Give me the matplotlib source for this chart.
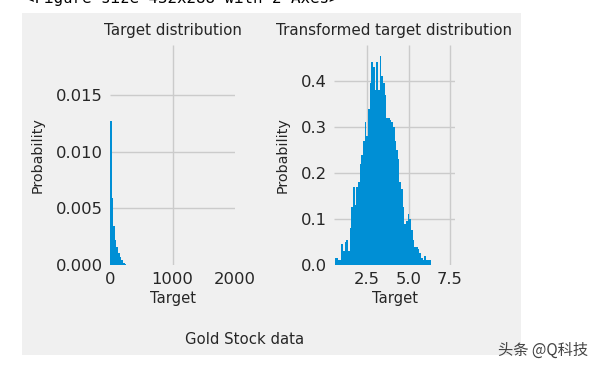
import matplotlib
matplotlib.use("Agg")
import matplotlib.pyplot as plt
import numpy as np
from matplotlib.patches import Rectangle

plt.style.use('fivethirtyeight')

# left histogram: raw target (density), bin width ~26
raw_start = 0
raw_width = 26
raw_heights = [0.0127, 0.0059, 0.0034, 0.0022, 0.0016, 0.0011, 0.0007, 0.0004, 0.0002, 0.0001]

# right histogram: log-transformed target (density), bin width 0.1
log_start = 0.55
log_width = 0.1
log_heights = [0.015, 0.015, 0.01, 0.01, 0.045, 0.03, 0.05, 0.055, 0.03, 0.08,
               0.125, 0.17, 0.13, 0.17, 0.18, 0.22, 0.24, 0.27, 0.31, 0.28,
               0.34, 0.395, 0.44, 0.43, 0.38, 0.44, 0.38, 0.455, 0.41, 0.395,
               0.37, 0.32, 0.32, 0.315, 0.31, 0.30, 0.27, 0.25, 0.23, 0.18,
               0.165, 0.125, 0.09, 0.095, 0.11, 0.10, 0.075, 0.055, 0.04, 0.04,
               0.035, 0.025, 0.015, 0.01, 0.02, 0.01, 0.01, 0.01]

raw_xticks = [0, 1000, 2000]
raw_yticks = [0.000, 0.005, 0.010, 0.015]
log_xticks = [2.5, 5.0, 7.5]
log_yticks = [0.0, 0.1, 0.2, 0.3, 0.4]

txt = '#262626'
W, H = 599, 366
fig = plt.figure(figsize=(W / 100, H / 100), dpi=100)
fig.patch.set_facecolor('white')

# grey figure area of the notebook output
fig.patches.append(Rectangle((22 / W, 1 - 355 / H), 499 / W, 342 / H,
                             transform=fig.transFigure, facecolor='#f0f0f0',
                             edgecolor='none', zorder=-5))

fig.text(25 / W, 1 - 3 / H, '<Figure size 432x288 with 2 Axes>', family='DejaVu Sans Mono',
         fontsize=11.4, color='black', va='baseline', ha='left')

ax1 = fig.add_axes([110 / W, 1 - 265 / H, 125 / W, 220 / H])
ax2 = fig.add_axes([334 / W, 1 - 265 / H, 121 / W, 220 / H])

edges1 = raw_start + raw_width * np.arange(len(raw_heights) + 1)
ax1.hist(edges1[:-1], bins=edges1, weights=raw_heights, histtype='stepfilled',
         color='#008fd5', linewidth=0)
edges2 = log_start + log_width * np.arange(len(log_heights) + 1)
ax2.hist(edges2[:-1], bins=edges2, weights=log_heights, histtype='stepfilled',
         color='#008fd5', linewidth=0)

ax1.set_xlim(0, 2000)
ax1.set_ylim(0, 0.0194)
ax1.set_xticks(raw_xticks)
ax1.set_yticks(raw_yticks)
ax1.set_yticklabels(['0.000', '0.005', '0.010', '0.015'])
ax2.set_xlim(0.5, 7.8)
ax2.set_ylim(0, 0.478)
ax2.set_xticks(log_xticks)
ax2.set_yticks(log_yticks)

for ax, title in [(ax1, 'Target distribution'), (ax2, 'Transformed target distribution')]:
    ax.set_facecolor('#f0f0f0')
    ax.grid(True, color='#cbcbcb', linewidth=1)
    ax.set_axisbelow(True)
    for s in ax.spines.values():
        s.set_visible(False)
    ax.tick_params(labelsize=11.8, colors=txt, length=0, pad=5)
    ax.set_title(title, fontsize=10.9, color=txt, pad=7)
    ax.set_xlabel('Target', fontsize=10.6, color=txt, labelpad=3)
    ax.set_ylabel('Probability', fontsize=10.4, color=txt, labelpad=8)
    # grid lines lying on the axes edge are not visible in the original
    ax.yaxis.get_gridlines()[0].set_visible(False)

ax1.xaxis.get_gridlines()[0].set_visible(False)
ax1.xaxis.get_gridlines()[-1].set_visible(False)

fig.text(245 / W, 1 - 340 / H, 'Gold Stock data', fontsize=10.7, color=txt,
         ha='center', va='center')
fig.text(543 / W, 1 - 350 / H, '头条 @Q科技', family=['Noto Sans CJK SC', 'DejaVu Sans'],
         fontsize=11, color='#444444', ha='center', va='center')

fig.savefig('out.png', dpi=100, facecolor='white')
